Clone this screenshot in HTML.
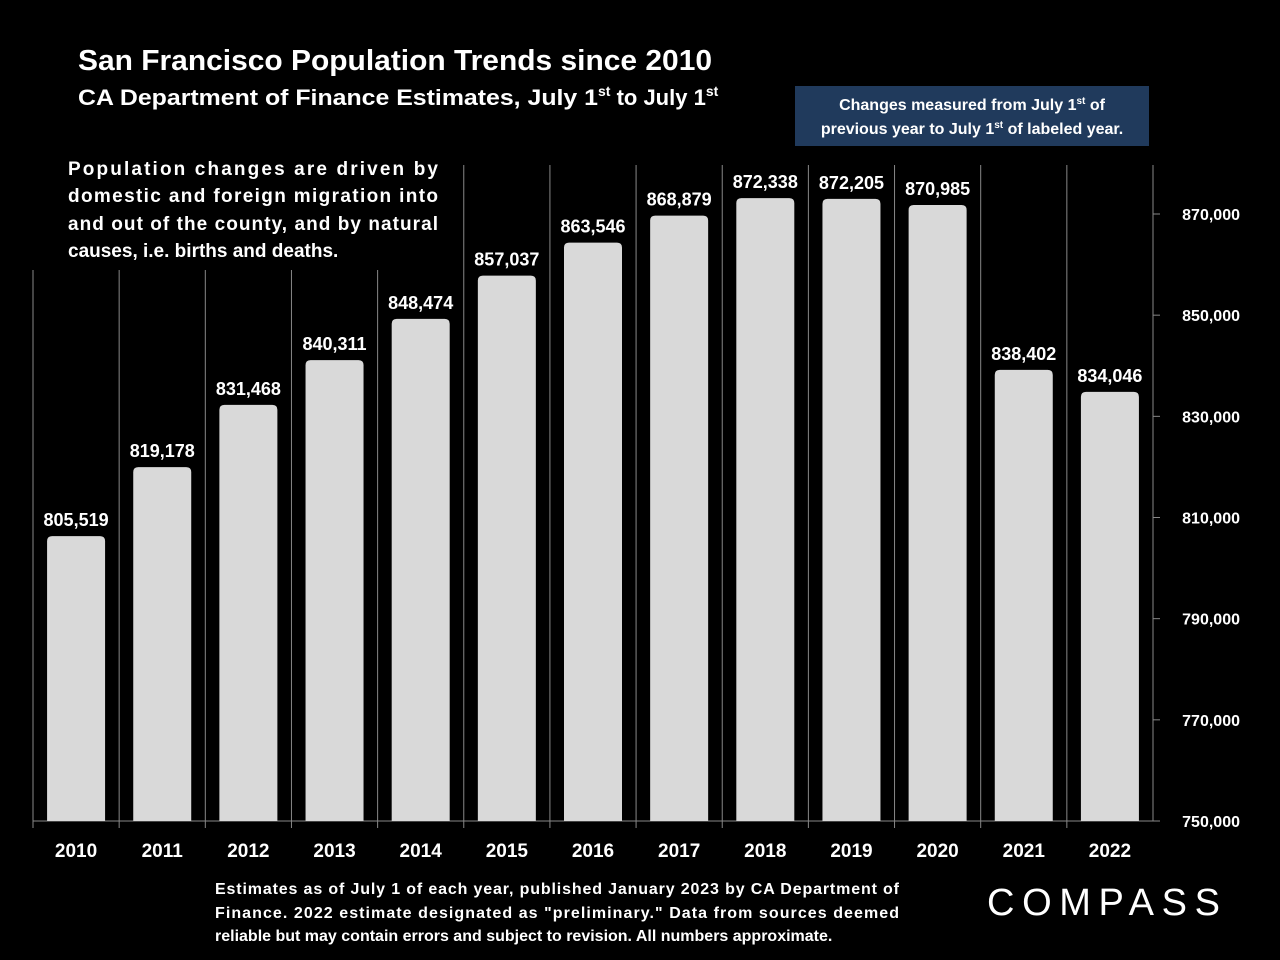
<!DOCTYPE html>
<html><head><meta charset="utf-8"><style>
html,body{margin:0;padding:0;background:#000;}
svg{display:block;font-family:"Liberation Sans",sans-serif;}
</style></head><body>
<svg id="chart" width="1280" height="960" viewBox="0 0 1280 960">
<text x="78" y="70" fill="#fff" font-size="29" font-weight="bold" textLength="634" lengthAdjust="spacingAndGlyphs">San Francisco Population Trends since 2010</text>
<text x="78" y="105" fill="#fff" font-size="22" font-weight="bold"><tspan textLength="520" lengthAdjust="spacingAndGlyphs">CA Department of Finance Estimates, July 1</tspan><tspan dy="-9" font-size="14">st</tspan><tspan dy="9"> to July 1</tspan><tspan dy="-9" font-size="14">st</tspan></text>
<g>
<rect x="795" y="86" width="354" height="60" fill="#203a5c"/>
<text x="972" y="110" fill="#fff" font-size="16" font-weight="bold" text-anchor="middle">Changes measured from July 1<tspan dy="-6" font-size="10">st</tspan><tspan dy="6"> of</tspan></text>
<text x="972" y="134" fill="#fff" font-size="16" font-weight="bold" text-anchor="middle">previous year to July 1<tspan dy="-6" font-size="10">st</tspan><tspan dy="6"> of labeled year.</tspan></text>
</g>
<g fill="#fff" font-size="19" font-weight="bold">
<text x="68" y="175" textLength="370" lengthAdjust="spacing">Population changes are driven by</text>
<text x="68" y="202" textLength="370" lengthAdjust="spacing">domestic and foreign migration into</text>
<text x="68" y="230" textLength="370" lengthAdjust="spacing">and out of the county, and by natural</text>
<text x="68" y="257">causes, i.e. births and deaths.</text>
</g>
<g id="plot"></g>
<g fill="#fff" font-size="16" font-weight="bold">
<text x="215" y="894" textLength="684" lengthAdjust="spacing">Estimates as of July 1 of each year, published January 2023 by CA Department of</text>
<text x="215" y="918" textLength="684" lengthAdjust="spacing">Finance. 2022 estimate designated as "preliminary." Data from sources deemed</text>
<text x="215" y="941">reliable but may contain errors and subject to revision. All numbers approximate.</text>
</g>
<text x="987" y="915" fill="#fff" font-size="38" textLength="233" lengthAdjust="spacing">COMPASS</text>
</svg>
<script>
const years=["2010","2011","2012","2013","2014","2015","2016","2017","2018","2019","2020","2021","2022"];
const population=[805519,819178,831468,840311,848474,857037,863546,868879,872338,872205,870985,838402,834046];
const valueLabels=["805,519","819,178","831,468","840,311","848,474","857,037","863,546","868,879","872,338","872,205","870,985","838,402","834,046"];
const yTicks=[750000,770000,790000,810000,830000,850000,870000];
const yTickLabels=["750,000","770,000","790,000","810,000","830,000","850,000","870,000"];
const NS="http://www.w3.org/2000/svg";
const plot=document.getElementById('plot');
const x0=33,x1=1153,yBase=821,yMin=750000,yMax=870000,yTop=214;
const colW=(x1-x0)/years.length;
const y=v=>yBase-(v-yMin)/(yMax-yMin)*(yBase-yTop);
function mk(tag,attrs){const e=document.createElementNS(NS,tag);for(const k in attrs)e.setAttribute(k,attrs[k]);plot.appendChild(e);return e;}
for(let i=0;i<years.length;i++){
  const gx=x0+i*colW;
  const top=i<=4?270:165;
  const g=mk('line',{x1:gx,x2:gx,y1:top,y2:828,stroke:'#888','stroke-width':1});
  
  
}
const base=mk('line',{x1:x0,x2:x1,y1:yBase,y2:yBase,stroke:'#888','stroke-width':1});


const ax=mk('line',{x1:x1,x2:x1,y1:165,y2:yBase,stroke:'#888','stroke-width':1});


yTicks.forEach((t,i)=>{
  const tk=mk('line',{x1:x1,x2:x1+7,y1:y(t),y2:y(t),stroke:'#888'});
  
  
  const tl=mk('text',{x:1240,y:y(t)+6,fill:'#fff','font-size':16,'font-weight':'bold','text-anchor':'end'});
  tl.textContent=yTickLabels[i];
  
  
});
years.forEach((yr,i)=>{
  const cx=x0+(i+0.5)*colW,bw=58,top=y(population[i])-4;
  const r=5;
  const d=`M${cx-bw/2},${yBase} L${cx-bw/2},${top+r} Q${cx-bw/2},${top} ${cx-bw/2+r},${top} L${cx+bw/2-r},${top} Q${cx+bw/2},${top} ${cx+bw/2},${top+r} L${cx+bw/2},${yBase} Z`;
  const b=mk('path',{d:d,fill:'#d9d9d9'});
  
  
  const vl=mk('text',{x:cx,y:top-10,fill:'#fff','font-size':18,'font-weight':'bold','text-anchor':'middle'});
  vl.textContent=valueLabels[i];
  
  
  const xl=mk('text',{x:cx,y:857,fill:'#fff','font-size':19,'font-weight':'bold','text-anchor':'middle'});
  xl.textContent=yr;
  
  
});
</script>
</body></html>
